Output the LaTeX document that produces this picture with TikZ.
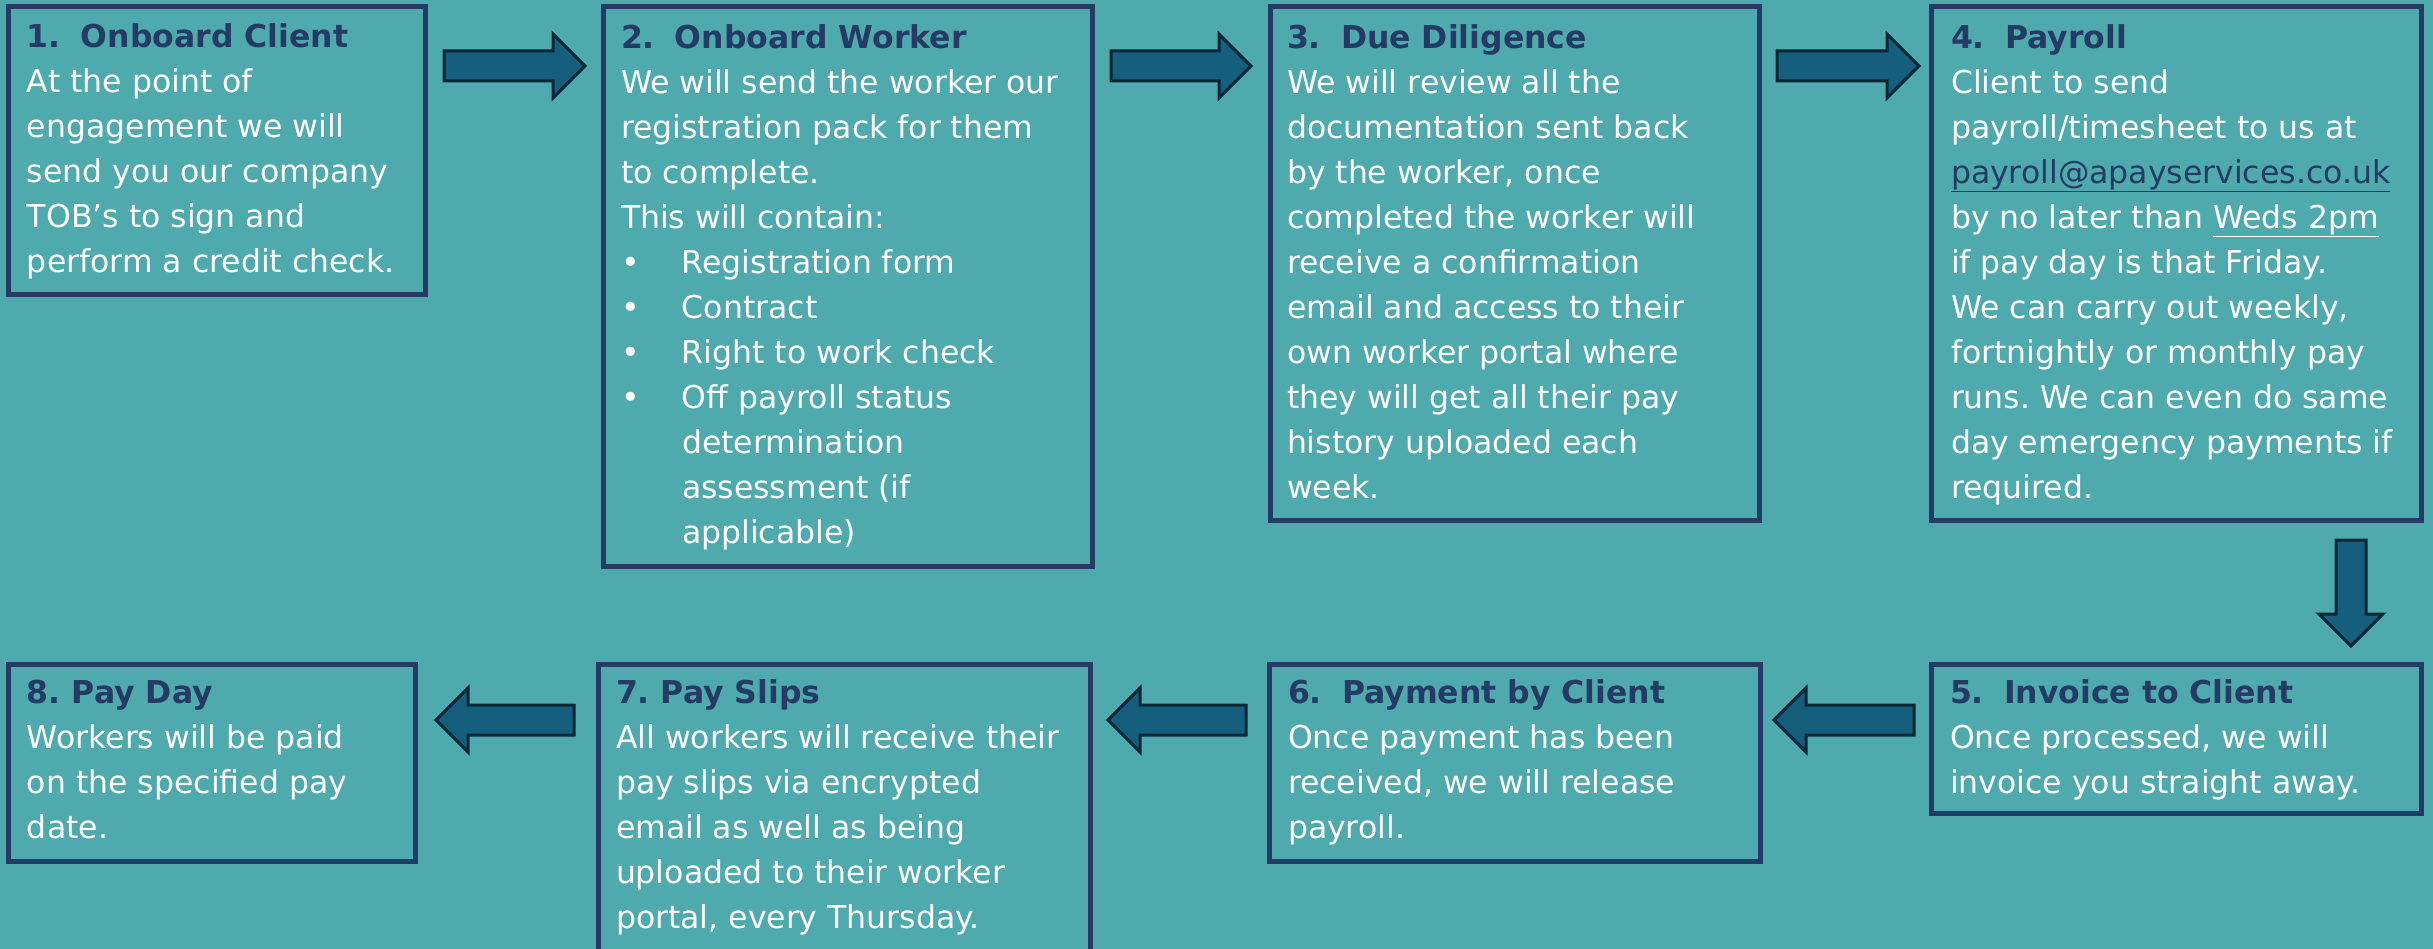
\documentclass[tikz,border=0pt]{standalone}
\usepackage{fontspec}
\setmainfont{DejaVu Sans}
\usetikzlibrary{calc}
\frenchspacing
\definecolor{bg}{HTML}{4EAAAD}
\definecolor{navy}{HTML}{263A66}
\definecolor{afill}{HTML}{155E7E}
\definecolor{aline}{HTML}{0B2634}
\newcommand\ttl[1]{\textbf{\textcolor{navy}{#1}}}
\newcommand\stepno[1]{\makebox[54pt][l]{#1}}
\newcommand\bul{\makebox[61pt][l]{•}}
\newcommand\bkarrow[2]{%
  \filldraw[blockarrow] ($(#1)!15pt!90:(#2)$) -- ($(#2)!32pt!(#1)!15pt!-90:(#1)$)
   -- ($(#2)!32pt!(#1)!32pt!-90:(#1)$) -- (#2) -- ($(#2)!32pt!(#1)!32pt!90:(#1)$)
   -- ($(#2)!32pt!(#1)!15pt!90:(#1)$) -- ($(#1)!15pt!-90:(#2)$) -- cycle;}
\tikzset{
  box/.style={draw=navy, line width=5pt, rectangle, inner sep=0pt, outer sep=0pt},
  txt/.style={anchor=north west, inner sep=0pt, outer sep=0pt, align=left, text=white,
    font=\fontsize{31.5}{45}\selectfont},
  blockarrow/.style={fill=afill, draw=aline, line width=3pt, line join=miter},
}
\begin{document}
\begin{tikzpicture}[x=1pt,y=-1pt]
\fill[bg] (0,0) rectangle (2433,949);
\useasboundingbox (0,0) rectangle (2433,949);
\clip (0,0) rectangle (2433,949);
% boxes
\node[box, minimum width=417pt, minimum height=288pt] (b1) at (216.5,151) {};
\node[box, minimum width=489pt, minimum height=559pt] (b2) at (847.5,286.5) {};
\node[box, minimum width=489pt, minimum height=513pt] (b3) at (1514.5,263.5) {};
\node[box, minimum width=490pt, minimum height=513pt] (b4) at (2176,263.5) {};
\node[box, minimum width=490pt, minimum height=149pt] (b5) at (2176,738.5) {};
\node[box, minimum width=491pt, minimum height=197pt] (b6) at (1514.5,762.5) {};
\node[box, minimum width=492pt, minimum height=336pt] (b7) at (844,832) {};
\node[box, minimum width=407pt, minimum height=197pt] (b8) at (211.5,762.5) {};
% texts
\node[txt] (t1) at ($(b1.north west)+(19,9.5)$) {\strut\ttl{\stepno{1.}Onboard Client}\\
At the point of\\ engagement we will\\ send you our company\\ TOB’s to sign and\\ perform a credit check.};
\node[txt] (t2) at ($(b2.north west)+(18,9.5)$) {\strut\ttl{\stepno{2.}Onboard Worker}\\
We will send the worker our\\ registration pack for them\\ to complete.\\ This will contain:\\
\bul Registration form\\ \bul Contract\\ \bul Right to work check\\ \bul Off payroll status\\
\hspace*{61pt}determination\\ \hspace*{61pt}assessment (if\\ \hspace*{61pt}applicable)};
\node[txt] (t3) at ($(b3.north west)+(17,9.5)$) {\strut\ttl{\stepno{3.}Due Diligence}\\
We will review all the\\ documentation sent back\\ by the worker, once\\ completed the worker will\\
receive a confirmation\\ email and access to their\\ own worker portal where\\
they will get all their pay\\ history uploaded each\\ week.};
\node[txt] (t4) at ($(b4.north west)+(20,9.5)$) {\strut\ttl{\stepno{4.}Payroll}\\
Client to send\\ payroll/timesheet to us at\\ \textcolor{navy}{\underline{payroll@apayservices.co.uk}}\\
by no later than \underline{Weds 2pm}\\ if pay day is that Friday.\\ We can carry out weekly,\\
fortnightly or monthly pay\\ runs. We can even do same\\ day emergency payments if\\ required.};
\node[txt] (t5) at ($(b5.north west)+(19,7.5)$) {\strut\ttl{\stepno{5.}Invoice to Client}\\
Once processed, we will\\ invoice you straight away.};
\node[txt] (t6) at ($(b6.north west)+(19,7.5)$) {\strut\ttl{\stepno{6.}Payment by Client}\\
Once payment has been\\ received, we will release\\ payroll.};
\node[txt] (t7) at ($(b7.north west)+(18,7.5)$) {\strut\ttl{7. Pay Slips}\\
All workers will receive their\\ pay slips via encrypted\\ email as well as being\\
uploaded to their worker\\ portal, every Thursday.};
\node[txt] (t8) at ($(b8.north west)+(19,7.5)$) {\strut\ttl{8. Pay Day}\\
Workers will be paid\\ on the specified pay\\ date.};
% arrow end points
\coordinate (a1t) at ($(b1.north east)+(19,59)$);
\coordinate (a1h) at ($(b2.north west)+(-18,59)$);
\coordinate (a2t) at ($(b2.north east)+(19,59)$);
\coordinate (a2h) at ($(b3.north west)+(-19,59)$);
\coordinate (a3t) at ($(b3.north east)+(18,59)$);
\coordinate (a3h) at ($(b4.north west)+(-12,59)$);
\coordinate (a4t) at ($(b4.south east)+(-70,20)$);
\coordinate (a4h) at ($(b5.north east)+(-70,-18)$);
\coordinate (a5t) at ($(b5.north west)+(-17,56)$);
\coordinate (a5h) at ($(b6.north east)+(14,56)$);
\coordinate (a6t) at ($(b6.north west)+(-23,56)$);
\coordinate (a6h) at ($(b7.north east)+(18,56)$);
\coordinate (a7t) at ($(b7.north west)+(-24,56)$);
\coordinate (a7h) at ($(b8.north east)+(21,56)$);
\bkarrow{a1t}{a1h}
\bkarrow{a2t}{a2h}
\bkarrow{a3t}{a3h}
\bkarrow{a4t}{a4h}
\bkarrow{a5t}{a5h}
\bkarrow{a6t}{a6h}
\bkarrow{a7t}{a7h}
\end{tikzpicture}
\end{document}
